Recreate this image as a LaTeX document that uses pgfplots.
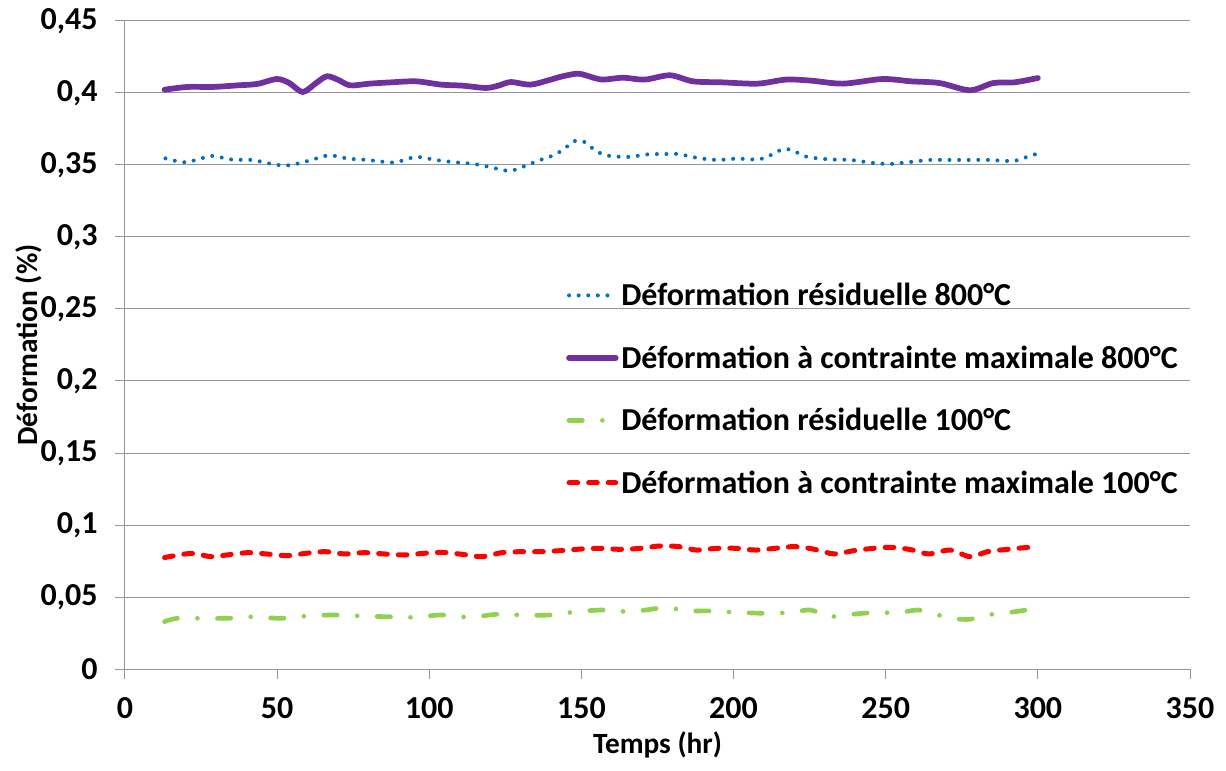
\documentclass[border=0pt]{standalone}
\usepackage{fontspec}
\setmainfont{Carlito}
\usepackage{pgfplots}
\pgfplotsset{compat=1.18}
\definecolor{cblue}{RGB}{0,112,192}
\definecolor{cpurple}{RGB}{112,48,160}
\definecolor{cgreen}{RGB}{146,208,80}
\definecolor{cred}{RGB}{255,0,0}
\definecolor{cgrid}{RGB}{150,150,150}
\begin{document}
\begin{tikzpicture}
\useasboundingbox (-93.75pt,-75.75pt) rectangle (825.75pt,501.75pt);
\begin{axis}[
  scale only axis, width=798.75pt, height=486pt,
  at={(0,0)}, anchor=south west,
  xmin=0, xmax=350, ymin=0, ymax=0.45,
  xtick={0,50,100,150,200,250,300,350},
  ytick={0,0.05,0.1,0.15,0.2,0.25,0.3,0.35,0.4,0.45},
  axis x line*=bottom, axis y line*=left,
  axis line style={cgrid, line width=0.75pt},
  ymajorgrids, grid style={cgrid, line width=0.75pt},
  tick style={cgrid, line width=0.75pt},
  tick align=outside, major tick length=7.5pt,
  /pgf/number format/assume math mode=true,
  tick label style={font=\bfseries\fontsize{24}{28}\selectfont, text=black},
  yticklabel style={xshift=-9.5pt,/pgf/number format/fixed,/pgf/number format/precision=2,/pgf/number format/use comma},
  xticklabel style={yshift=-10pt,/pgf/number format/fixed},
  xlabel={Temps (hr)}, ylabel={Déformation (\%)},
  every axis x label/.style={at={(axis description cs:0.5,-0.117)}, anchor=center, font=\bfseries\fontsize{22}{26}\selectfont},
  every axis y label/.style={at={(axis description cs:-0.09,0.5)}, anchor=center, rotate=90, font=\bfseries\fontsize{22}{26}\selectfont},
  legend cell align=left,
  legend image code/.code={\draw[#1] (0pt,0pt) -- (35pt,0pt);},
  legend style={at={(0.414,0.6)}, anchor=north west, draw=none, fill=none,
    font=\bfseries\fontsize{24}{28}\selectfont, inner sep=0pt, row sep=24.5pt,
    /tikz/every odd column/.append style={column sep=0pt}},
]
\addplot[cblue, line width=3pt, line cap=round, dash pattern=on 0pt off 7.2pt, smooth] coordinates {
(13.3,0.3546) (19.6,0.3519) (26.0,0.3551) (29.0,0.3563) (35.4,0.3537) (41.7,0.3535)
(48.2,0.3507) (51.3,0.3498) (54.6,0.3500) (60.8,0.3532) (67.0,0.3567) (73.4,0.3544)
(79.8,0.3535) (86.3,0.3519) (89.5,0.3521) (95.7,0.3556) (102.0,0.3535) (108.4,0.3519)
(114.8,0.3507) (121.3,0.3479) (124.4,0.3463) (127.6,0.3463) (130.6,0.3486) (136.5,0.3535)
(139.7,0.3558) (142.6,0.3588) (145.2,0.3627) (147.9,0.3667) (150.8,0.3662) (153.4,0.3620)
(156.1,0.3583) (159.3,0.3563) (165.5,0.3556) (172.0,0.3574) (178.4,0.3576) (181.8,0.3576)
(188.2,0.3549) (194.7,0.3535) (201.0,0.3544) (207.5,0.3538) (210.7,0.3553) (213.5,0.3583)
(216.5,0.3611) (219.6,0.3600) (222.6,0.3567) (225.7,0.3551) (232.2,0.3538) (238.6,0.3535)
(245.0,0.3516) (251.3,0.3507) (258.0,0.3521) (264.3,0.3535) (270.7,0.3535) (277.2,0.3535)
(283.6,0.3535) (290.1,0.3528) (293.3,0.3533) (296.4,0.3556) (299.4,0.3576)
};
\addlegendentry{Déformation résiduelle 800°C}
\addplot[cpurple, line width=4.3pt, line cap=round, smooth] coordinates {
(13.0,0.4023) (20.6,0.4042) (28.8,0.4042) (37.0,0.4053) (43.5,0.4063) (49.9,0.4097)
(54.0,0.4069) (58.4,0.4007) (62.8,0.4069) (66.3,0.4116) (69.9,0.4093) (74.0,0.4053)
(80.4,0.4065) (87.5,0.4074) (95.7,0.4081) (103.9,0.4058) (110.9,0.4051) (118.6,0.4035)
(122.7,0.4051) (126.8,0.4076) (133.2,0.4058) (139.1,0.4088) (143.8,0.4116) (149.1,0.4134)
(154.3,0.4104) (157.3,0.4093) (163.7,0.4106) (170.8,0.4093) (179.1,0.4123) (186.7,0.4081)
(196.1,0.4074) (207.9,0.4065) (217.2,0.4093) (225.4,0.4086) (236.0,0.4065) (248.9,0.4097)
(258.3,0.4081) (267.7,0.4069) (277.7,0.4019) (285.3,0.4069) (292.3,0.4074) (300.0,0.4104)
};
\addlegendentry{Déformation à contrainte maximale 800°C}
\addplot[cgreen, line width=3.5pt, line cap=round, dash pattern=on 10pt off 15pt on 0pt off 15pt, smooth] coordinates {
(13.0,0.0329) (17.1,0.0352) (24.7,0.0352) (33.5,0.0352) (42.3,0.0363) (51.1,0.0352)
(59.9,0.0368) (68.7,0.0375) (77.5,0.0368) (86.3,0.0363) (95.1,0.0359) (103.9,0.0375)
(113.3,0.0359) (122.1,0.0380) (130.9,0.0375) (139.7,0.0375) (148.5,0.0398) (157.3,0.0410)
(166.1,0.0398) (174.9,0.0421) (178.5,0.0430) (183.8,0.0405) (192.6,0.0403) (201.4,0.0393)
(210.2,0.0387) (219.0,0.0393) (225.4,0.0410) (230.7,0.0363) (236.6,0.0375) (245.4,0.0391)
(254.2,0.0391) (260.6,0.0410) (265.9,0.0382) (271.8,0.0352) (277.6,0.0345) (282.9,0.0375)
(288.8,0.0387) (297.6,0.0414) (300.0,0.0421)
};
\addlegendentry{Déformation résiduelle 100°C}
\addplot[cred, line width=3.75pt, line cap=round, dash pattern=on 6.5pt off 8.2pt, smooth] coordinates {
(13.0,0.0774) (21.8,0.0803) (28.2,0.0780) (33.5,0.0792) (40.5,0.0808) (46.4,0.0799)
(53.4,0.0787) (59.3,0.0803) (65.8,0.0815) (72.2,0.0799) (78.7,0.0808) (85.1,0.0799)
(91.6,0.0792) (98.0,0.0803) (104.5,0.0810) (110.9,0.0796) (117.4,0.0780) (123.8,0.0808)
(130.3,0.0815) (136.7,0.0815) (143.2,0.0822) (149.7,0.0833) (156.1,0.0838) (162.6,0.0831)
(169.6,0.0838) (175.5,0.0854) (182.0,0.0850) (187.9,0.0826) (194.3,0.0838) (200.8,0.0838)
(207.3,0.0826) (213.7,0.0838) (220.2,0.0850) (226.6,0.0831) (233.1,0.0799) (239.5,0.0822)
(246.0,0.0838) (252.4,0.0845) (258.9,0.0826) (264.2,0.0799) (271.2,0.0826) (277.7,0.0780)
(283.5,0.0815) (290.0,0.0831) (297.0,0.0845) (300.0,0.0847)
};
\addlegendentry{Déformation à contrainte maximale 100°C}
\end{axis}
\end{tikzpicture}
\end{document}
